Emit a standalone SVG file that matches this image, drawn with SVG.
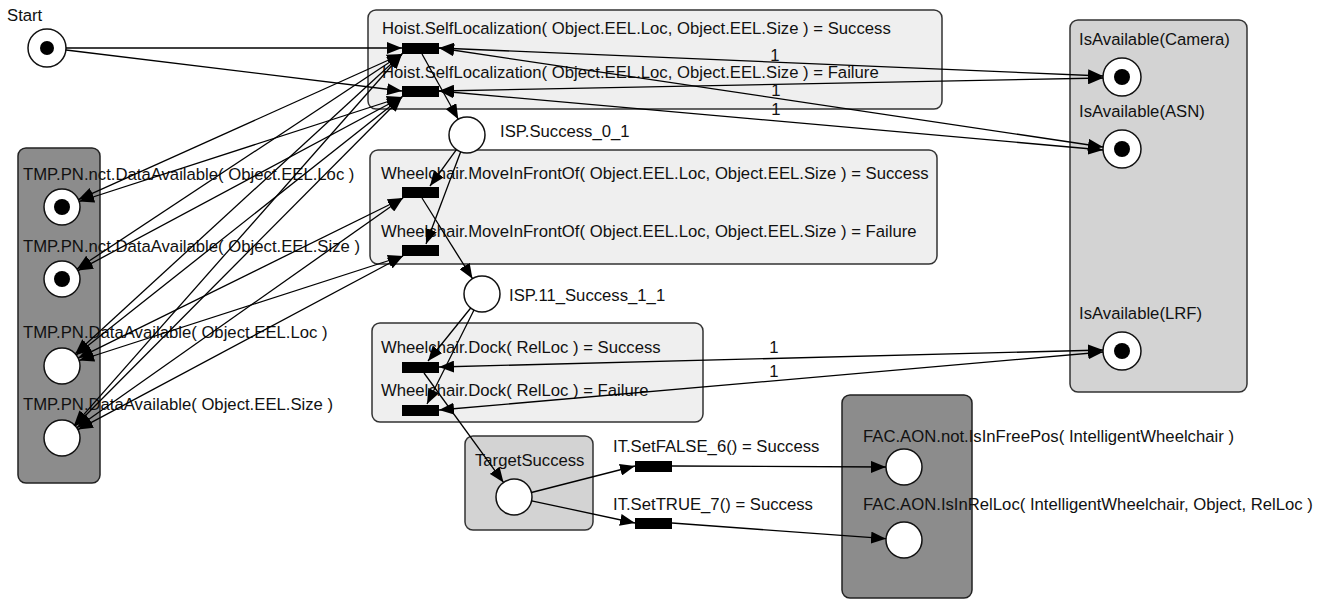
<svg xmlns="http://www.w3.org/2000/svg" width="1326" height="599" viewBox="0 0 1326 599">
<style>
text{font-family:"Liberation Sans",Arial,sans-serif;font-size:16.7px;fill:#111}
.light{fill:#efefef;stroke:#333;stroke-width:1.5}
.mid{fill:#d3d3d3;stroke:#333;stroke-width:1.5}
.dark{fill:#8c8c8c;stroke:#222;stroke-width:1.5}
.place{fill:#fff;stroke:#111;stroke-width:1.5}
.dot{fill:#000}
.bar{fill:#000}
.arc{stroke:#000;stroke-width:1.3;fill:none;marker-end:url(#ah)}
.bi{marker-start:url(#ah)}
</style>
<defs>
<marker id="ah" markerUnits="userSpaceOnUse" markerWidth="15" markerHeight="12" refX="15" refY="6" orient="auto-start-reverse">
<path d="M0,0 L15,6 L0,12 z" fill="#000"/>
</marker>
</defs>
<rect width="1326" height="599" fill="#fff"/>

<!-- containers -->
<g id="hoist-box"><rect class="light" x="368" y="10" width="574" height="99" rx="8"/>
<text x="382" y="34">Hoist.SelfLocalization( Object.EEL.Loc, Object.EEL.Size ) = Success</text>
<text x="382" y="78">Hoist.SelfLocalization( Object.EEL.Loc, Object.EEL.Size ) = Failure</text></g>
<g id="move-box"><rect class="light" x="370" y="150" width="567" height="114" rx="8"/>
<text x="381" y="179">Wheelchair.MoveInFrontOf( Object.EEL.Loc, Object.EEL.Size ) = Success</text>
<text x="381" y="237">Wheelchair.MoveInFrontOf( Object.EEL.Loc, Object.EEL.Size ) = Failure</text></g>
<g id="dock-box"><rect class="light" x="372" y="323" width="331" height="99" rx="8"/>
<text x="381" y="353">Wheelchair.Dock( RelLoc ) = Success</text>
<text x="381" y="396">Wheelchair.Dock( RelLoc ) = Failure</text></g>
<g id="target-box"><rect class="mid" x="465" y="436" width="128" height="94" rx="8"/>
<text x="475" y="466">TargetSuccess</text></g>
<g id="avail-box"><rect class="mid" x="1070" y="20" width="177" height="372" rx="8"/></g>
<g id="tmp-box"><rect class="dark" x="18" y="148" width="82" height="335" rx="8"/></g>
<g id="fac-box"><rect class="dark" x="842" y="395" width="130" height="203" rx="8"/></g>

<!-- places -->
<g id="p-start"><text x="7" y="21">Start</text><circle class="place" cx="47" cy="48" r="19"/><circle class="dot" cx="47" cy="48" r="7"/></g>
<g id="p-isp0"><circle class="place" cx="467" cy="135" r="18"/><text x="500" y="137">ISP.Success_0_1</text></g>
<g id="p-isp11"><circle class="place" cx="482" cy="294" r="18"/><text x="509" y="301">ISP.11_Success_1_1</text></g>
<g id="p-target"><circle class="place" cx="514" cy="497" r="18"/></g>
<g id="p-camera"><text x="1079" y="45">IsAvailable(Camera)</text><circle class="place" cx="1122" cy="77" r="19"/><circle class="dot" cx="1122" cy="77" r="8"/></g>
<g id="p-asn"><text x="1079" y="117">IsAvailable(ASN)</text><circle class="place" cx="1122" cy="149" r="19"/><circle class="dot" cx="1122" cy="149" r="8"/></g>
<g id="p-lrf"><text x="1079" y="319">IsAvailable(LRF)</text><circle class="place" cx="1122" cy="351" r="19"/><circle class="dot" cx="1122" cy="351" r="8"/></g>
<g id="p-tmp1"><text x="23" y="180">TMP.PN.nct.DataAvailable( Object.EEL.Loc )</text><circle class="place" cx="62" cy="207" r="18"/><circle class="dot" cx="62" cy="207" r="8"/></g>
<g id="p-tmp2"><text x="23" y="252">TMP.PN.nct.DataAvailable( Object.EEL.Size )</text><circle class="place" cx="62" cy="279" r="18"/><circle class="dot" cx="62" cy="279" r="8"/></g>
<g id="p-tmp3"><text x="23" y="338">TMP.PN.DataAvailable( Object.EEL.Loc )</text><circle class="place" cx="62" cy="366" r="18"/></g>
<g id="p-tmp4"><text x="23" y="410">TMP.PN.DataAvailable( Object.EEL.Size )</text><circle class="place" cx="62" cy="438" r="18"/></g>
<g id="p-fac1"><text x="863" y="442">FAC.AON.not.IsInFreePos( IntelligentWheelchair )</text><circle class="place" cx="904" cy="467" r="18"/></g>
<g id="p-fac2"><text x="863" y="510">FAC.AON.IsInRelLoc( IntelligentWheelchair, Object, RelLoc )</text><circle class="place" cx="904" cy="540" r="18"/></g>

<!-- transitions -->
<g id="t-hoist-s"><rect class="bar" x="402" y="43" width="37" height="11"/></g>
<g id="t-hoist-f"><rect class="bar" x="402" y="86" width="37" height="11"/></g>
<g id="t-move-s"><rect class="bar" x="402" y="187" width="37" height="11"/></g>
<g id="t-move-f"><rect class="bar" x="402" y="245" width="37" height="11"/></g>
<g id="t-dock-s"><rect class="bar" x="402" y="362" width="37" height="11"/></g>
<g id="t-dock-f"><rect class="bar" x="402" y="405" width="37" height="11"/></g>
<g id="t-setfalse"><text x="613" y="452">IT.SetFALSE_6() = Success</text><rect class="bar" x="635" y="461" width="37" height="11"/></g>
<g id="t-settrue"><text x="613" y="510">IT.SetTRUE_7() = Success</text><rect class="bar" x="635" y="518" width="37" height="11"/></g>

<!-- connectors -->
<g id="connectors">
<line class="arc" x1="66" y1="48" x2="402" y2="48"/>
<line class="arc" x1="66" y1="50" x2="402" y2="91"/>
<!-- resources -->
<line class="arc bi" x1="439" y1="48" x2="1103" y2="76"/>
<line class="arc bi" x1="439" y1="91" x2="1103" y2="78"/>
<line class="arc bi" x1="439" y1="48" x2="1103" y2="147"/>
<line class="arc bi" x1="439" y1="91" x2="1103" y2="150"/>
<line class="arc bi" x1="439" y1="367" x2="1103" y2="350"/>
<line class="arc bi" x1="439" y1="410" x2="1103" y2="352"/>
<!-- TMP arcs -->
<line class="arc bi" x1="402" y1="54" x2="78.4" y2="199.6"/>
<line class="arc bi" x1="402" y1="97" x2="79.1" y2="201.5"/>
<line class="arc bi" x1="402" y1="54" x2="77" y2="269"/>
<line class="arc bi" x1="402" y1="97" x2="77.9" y2="270.6"/>
<line class="arc bi" x1="402" y1="54" x2="75.3" y2="353.8"/>
<line class="arc bi" x1="402" y1="97" x2="76.1" y2="354.9"/>
<line class="arc bi" x1="402" y1="54" x2="74" y2="425.6"/>
<line class="arc bi" x1="402" y1="97" x2="74.8" y2="426.3"/>
<line class="arc bi" x1="403" y1="198" x2="78.2" y2="358.1"/>
<line class="arc bi" x1="403" y1="256" x2="79.1" y2="360.5"/>
<line class="arc bi" x1="403" y1="198" x2="76.8" y2="427.7"/>
<line class="arc bi" x1="403" y1="256" x2="77.9" y2="429.6"/>
<!-- control flow -->
<line class="arc" x1="422" y1="54" x2="458.3" y2="119.2"/>
<line class="arc" x1="456.4" y1="149.6" x2="430" y2="186"/>
<line class="arc" x1="460.7" y1="151.8" x2="426" y2="244"/>
<line class="arc" x1="422" y1="198" x2="472.5" y2="278.7"/>
<line class="arc" x1="470.7" y1="308" x2="428" y2="361"/>
<line class="arc" x1="474" y1="310" x2="427" y2="404"/>
<line class="arc" x1="424" y1="373" x2="503.5" y2="482.4"/>
<line class="arc" x1="531.4" y1="492.5" x2="635" y2="466"/>
<line class="arc" x1="531.6" y1="500.8" x2="635" y2="523"/>
<line class="arc" x1="672" y1="466" x2="886" y2="467"/>
<line class="arc" x1="672" y1="523" x2="886" y2="538.7"/>
<!-- weights -->
<text x="775" y="61" text-anchor="middle">1</text>
<text x="776" y="96" text-anchor="middle">1</text>
<text x="776" y="115" text-anchor="middle">1</text>
<text x="774" y="353" text-anchor="middle">1</text>
<text x="774" y="377" text-anchor="middle">1</text>
</g>
</svg>
